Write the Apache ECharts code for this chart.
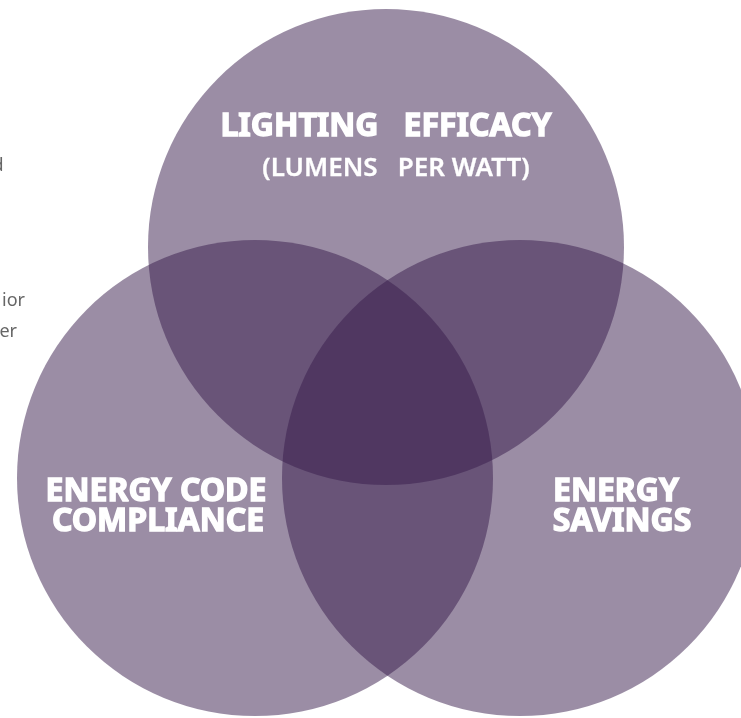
<!DOCTYPE html>
<html>
<head>
<meta charset="utf-8">
<script src="https://cdn.jsdelivr.net/npm/echarts@6/dist/echarts.min.js"></script>
<style>
  html, body { margin: 0; padding: 0; background: #fff; }
  #main { width: 741px; height: 718px; }
</style>
</head>
<body>
<div id="main"></div>
<script>
// circles of the venn, in pixel-like data units
const circleNames = ['Lighting Efficacy', 'Energy Code Compliance', 'Energy Savings'];
const centerX = [386, 255, 520];
const centerY = [247, 478, 478];
const radius = [238, 238, 238];

// labels inside the circles
const labelText = ['LIGHTING   EFFICACY', '(LUMENS   PER WATT)', 'ENERGY CODE', 'COMPLIANCE', 'ENERGY', 'SAVINGS'];
const labelX = [386, 396, 156, 158, 616, 622];
const labelY = [127, 169, 492, 522, 492, 522];
const labelBig = [1, 0, 1, 1, 1, 1];

// cut-off text on the left edge
const sideText = ['d', 'ior', 'er'];
const sideX = [3.5, 25, 17];
const sideY = [166, 301, 332];

const circleData = circleNames.map((n, i) => ({ name: n, value: [centerX[i], centerY[i], radius[i]] }));
const labelData = labelText.map((t, i) => ({ name: t, value: [labelX[i], labelY[i], labelBig[i]] }));
const sideData = sideText.map((t, i) => ({ name: t, value: [sideX[i], sideY[i]] }));

const chart = echarts.init(document.getElementById('main'));

chart.setOption({
  animation: false,
  grid: { left: 0, right: 0, top: 0, bottom: 0 },
  xAxis: { type: 'value', min: 0, max: 741, show: false },
  yAxis: { type: 'value', min: 0, max: 718, inverse: true, show: false },
  series: [
    {
      type: 'custom',
      data: circleData,
      renderItem: function (params, api) {
        const c = api.coord([api.value(0), api.value(1)]);
        const s = api.size([api.value(2), api.value(2)]);
        return {
          type: 'circle',
          shape: { cx: c[0], cy: c[1], r: Math.abs(s[0]) },
          style: { fill: 'rgba(55, 28, 75, 0.5)' }
        };
      },
      z: 1
    },
    {
      type: 'custom',
      data: labelData,
      renderItem: function (params, api) {
        const c = api.coord([api.value(0), api.value(1)]);
        const big = api.value(2) === 1;
        return {
          type: 'text',
          x: c[0], y: c[1],
          style: {
            text: labelText[params.dataIndex],
            fill: '#fff',
            stroke: '#fff',
            lineWidth: big ? 1.4 : 0.3,
            font: (big ? 'bold 32px' : '600 26px') + ' "Noto Sans", sans-serif',
            textAlign: 'center',
            textVerticalAlign: 'middle'
          }
        };
      },
      z: 3
    },
    {
      type: 'custom',
      data: sideData,
      renderItem: function (params, api) {
        const c = api.coord([api.value(0), api.value(1)]);
        return {
          type: 'text',
          x: c[0], y: c[1],
          style: {
            text: sideText[params.dataIndex],
            fill: '#666',
            font: '18px "Noto Sans", sans-serif',
            textAlign: 'right',
            textVerticalAlign: 'middle'
          }
        };
      },
      z: 2
    }
  ]
});
</script>
</body>
</html>
